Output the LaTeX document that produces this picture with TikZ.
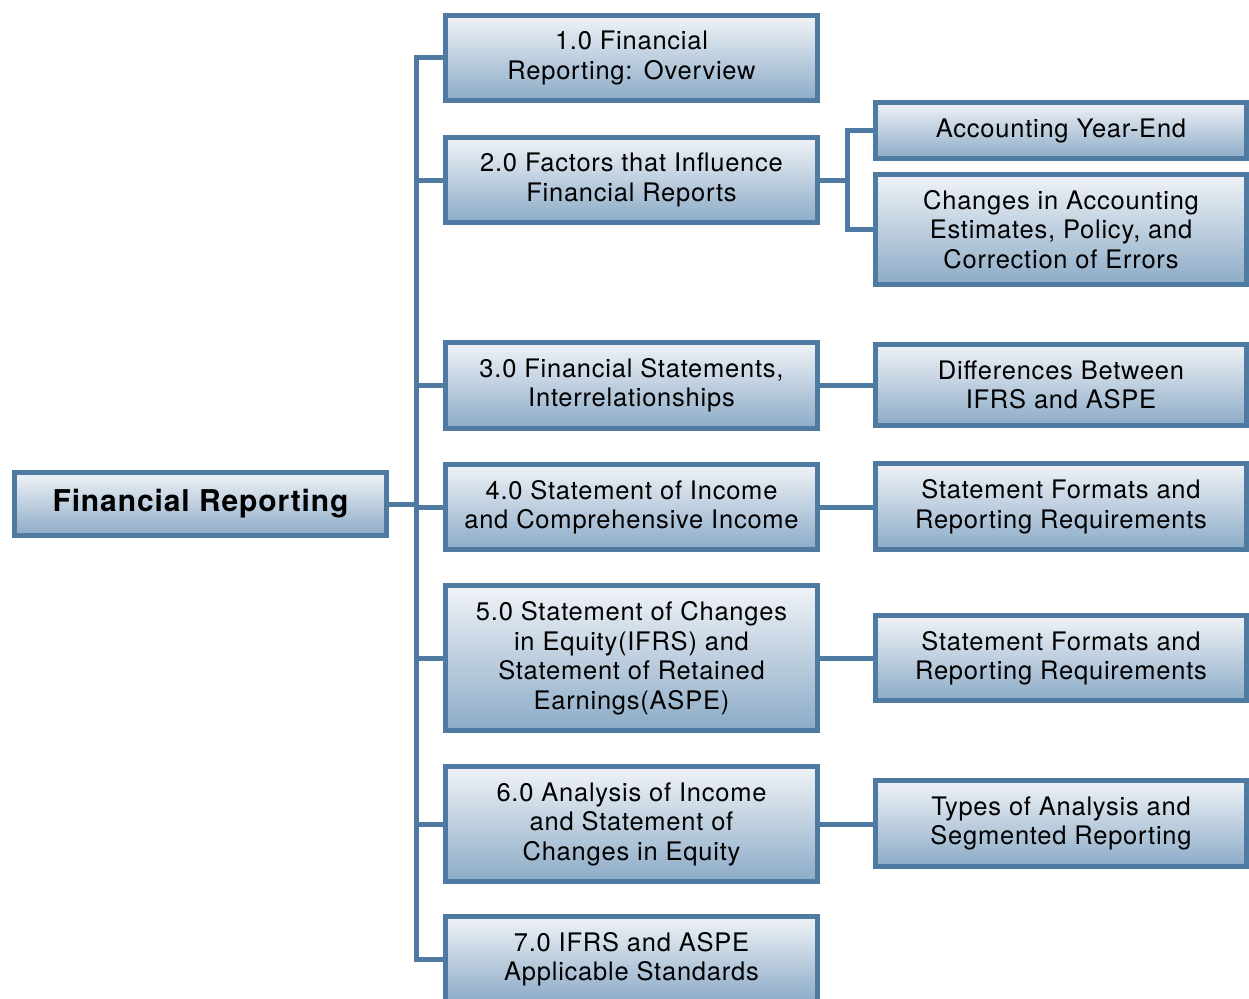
\documentclass[tikz,border=0pt]{standalone}
\usepackage{fontspec}
\setmainfont{TeX Gyre Heros}[LetterSpace=3]
\definecolor{bordercol}{RGB}{79,123,163}
\definecolor{topcol}{RGB}{240,243,247}
\definecolor{botcol}{RGB}{140,171,199}
\tikzset{
  box/.style={draw=bordercol, line width=5pt, top color=topcol, bottom color=botcol,
    align=center, inner sep=0pt, text=black,
    font=\fontsize{25.5}{29.5}\selectfont},
  midbox/.style={box, minimum width=372pt},
  rightbox/.style={box, minimum width=371pt},
  conn/.style={draw=bordercol, line width=5pt, line join=miter},
}
\begin{document}
\begin{tikzpicture}[x=1pt,y=-1pt]
\useasboundingbox (0,0) rectangle (1249,998);
% root
\node[box, minimum width=372pt, minimum height=63pt, font=\fontsize{30}{36}\selectfont\bfseries] (root) at (200.5,504) {Financial Reporting};
% middle column
\node[midbox, minimum height=85pt] (m1) at (631.5,58) {1.0 Financial\\Reporting:\hspace{0.45em}Overview};
\node[midbox, minimum height=85pt] (m2) at (631.5,180) {2.0 Factors that Influence\\Financial Reports};
\node[midbox, minimum height=86pt] (m3) at (631.5,385.5) {3.0 Financial Statements,\\Interrelationships};
\node[midbox, minimum height=85pt] (m4) at (631.5,507) {4.0 Statement of Income\\and Comprehensive Income};
\node[midbox, minimum height=145pt] (m5) at (631.5,658) {5.0 Statement of Changes\\in Equity(IFRS) and\\Statement of Retained\\Earnings(ASPE)};
\node[midbox, minimum height=115pt] (m6) at (631.5,824) {6.0 Analysis of Income\\and Statement of\\Changes in Equity};
\node[midbox, minimum height=85pt] (m7) at (631.5,959) {7.0 IFRS and ASPE\\Applicable Standards};
% right column
\node[rightbox, minimum height=56pt] (r1) at (1061,130.5) {Accounting Year-End};
\node[rightbox, minimum height=110pt] (r2) at (1061,229.5) {Changes in Accounting\\Estimates, Policy, and\\Correction of Errors};
\node[rightbox, minimum height=81pt] (r3) at (1061,385) {Differences Between\\IFRS and ASPE};
\node[rightbox, minimum height=86pt] (r4) at (1061,506.5) {Statement Formats and\\Reporting Requirements};
\node[rightbox, minimum height=85pt] (r5) at (1061,658) {Statement Formats and\\Reporting Requirements};
\node[rightbox, minimum height=86pt] (r6) at (1061,823.5) {Types of Analysis and\\Segmented Reporting};
% trunk
\coordinate (tr) at (416,504);
\coordinate (c2) at (847.5,180);
\draw[conn] (m1.west) -- (m1.west -| tr) -- (m7.west -| tr) -- (m7.west);
\draw[conn] (root.east) -- (tr);
\foreach \m in {m2,m3,m4,m5,m6}{\draw[conn] (\m.west) -- (\m.west -| tr);}
% right connectors
\draw[conn] (m2.east) -- (c2);
\draw[conn] (r1.west) -- (r1.west -| c2) -- (r2.west -| c2) -- (r2.west);
\draw[conn] (m3.east) -- (m3.east -| r3.west);
\draw[conn] (m4.east) -- (m4.east -| r4.west);
\draw[conn] (m5.east) -- (m5.east -| r5.west);
\draw[conn] (m6.east) -- (m6.east -| r6.west);
\end{tikzpicture}
\end{document}
